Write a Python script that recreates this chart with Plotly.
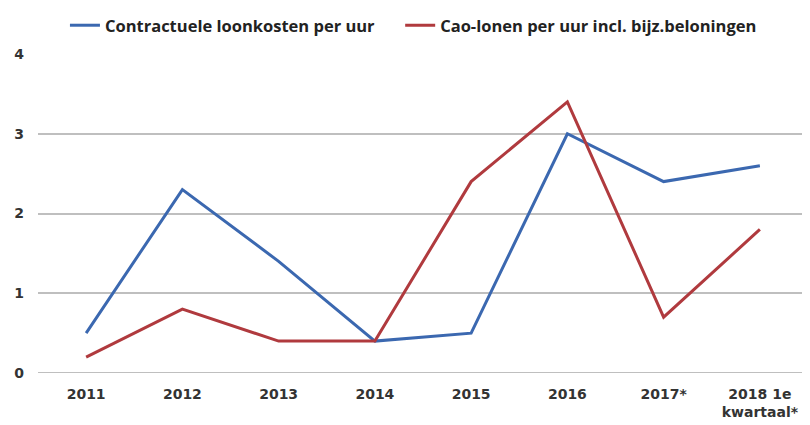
import plotly.graph_objects as go

categories = ["2011", "2012", "2013", "2014", "2015", "2016", "2017*", "2018 1e<br>kwartaal*"]
loonkosten = [0.5, 2.3, 1.4, 0.4, 0.5, 3.0, 2.4, 2.6]
cao_lonen = [0.2, 0.8, 0.4, 0.4, 2.4, 3.4, 0.7, 1.8]
yticks = [0, 1, 2, 3, 4]

legend_font = dict(family="Open Sans", size=16.5, color="#222222", weight="bold")

fig = go.Figure()
fig.add_trace(go.Scatter(x=categories, y=loonkosten, mode="lines",
                         name="Contractuele loonkosten per uur",
                         line=dict(color="#3B68B0", width=3), legend="legend"))
fig.add_trace(go.Scatter(x=categories, y=cao_lonen, mode="lines",
                         name="Cao-lonen per uur incl. bijz.beloningen",
                         line=dict(color="#B03A3E", width=3), legend="legend2"))

tickfont = dict(family="DejaVu Sans", size=14, color="#333333", weight="bold")

# page body has an 8px margin; figure sized so it ends at the window edge
fig.update_layout(
    width=802, height=417,
    margin=dict(l=30, r=2, t=46, b=52, autoexpand=False),
    paper_bgcolor="white", plot_bgcolor="white",
    font=dict(family="DejaVu Sans", size=14, color="#333333"),
    showlegend=True,
    legend=dict(orientation="h", x=0.071, xanchor="left", xref="container",
                y=1, yanchor="top", yref="container",
                font=legend_font, itemwidth=30),
    legend2=dict(orientation="h", x=0.489, xanchor="left", xref="container",
                 y=1, yanchor="top", yref="container",
                 font=legend_font, itemwidth=30),
    xaxis=dict(type="category", showgrid=False, showline=False, zeroline=False,
               tickfont=tickfont, automargin=False,
               ticklabelstandoff=11, range=[-0.5, 7.5]),
    yaxis=dict(range=[0, 4], tickvals=yticks, showgrid=True, gridcolor="#BFBFBF",
               gridwidth=2, zeroline=False, showline=False, automargin=False,
               tickfont=tickfont, ticklabelstandoff=13),
)
fig.add_shape(type="line", xref="paper", yref="y", x0=0, x1=1, y0=0, y1=0,
              line=dict(color="#BFBFBF", width=2), layer="below")
fig.write_html("out.html")
